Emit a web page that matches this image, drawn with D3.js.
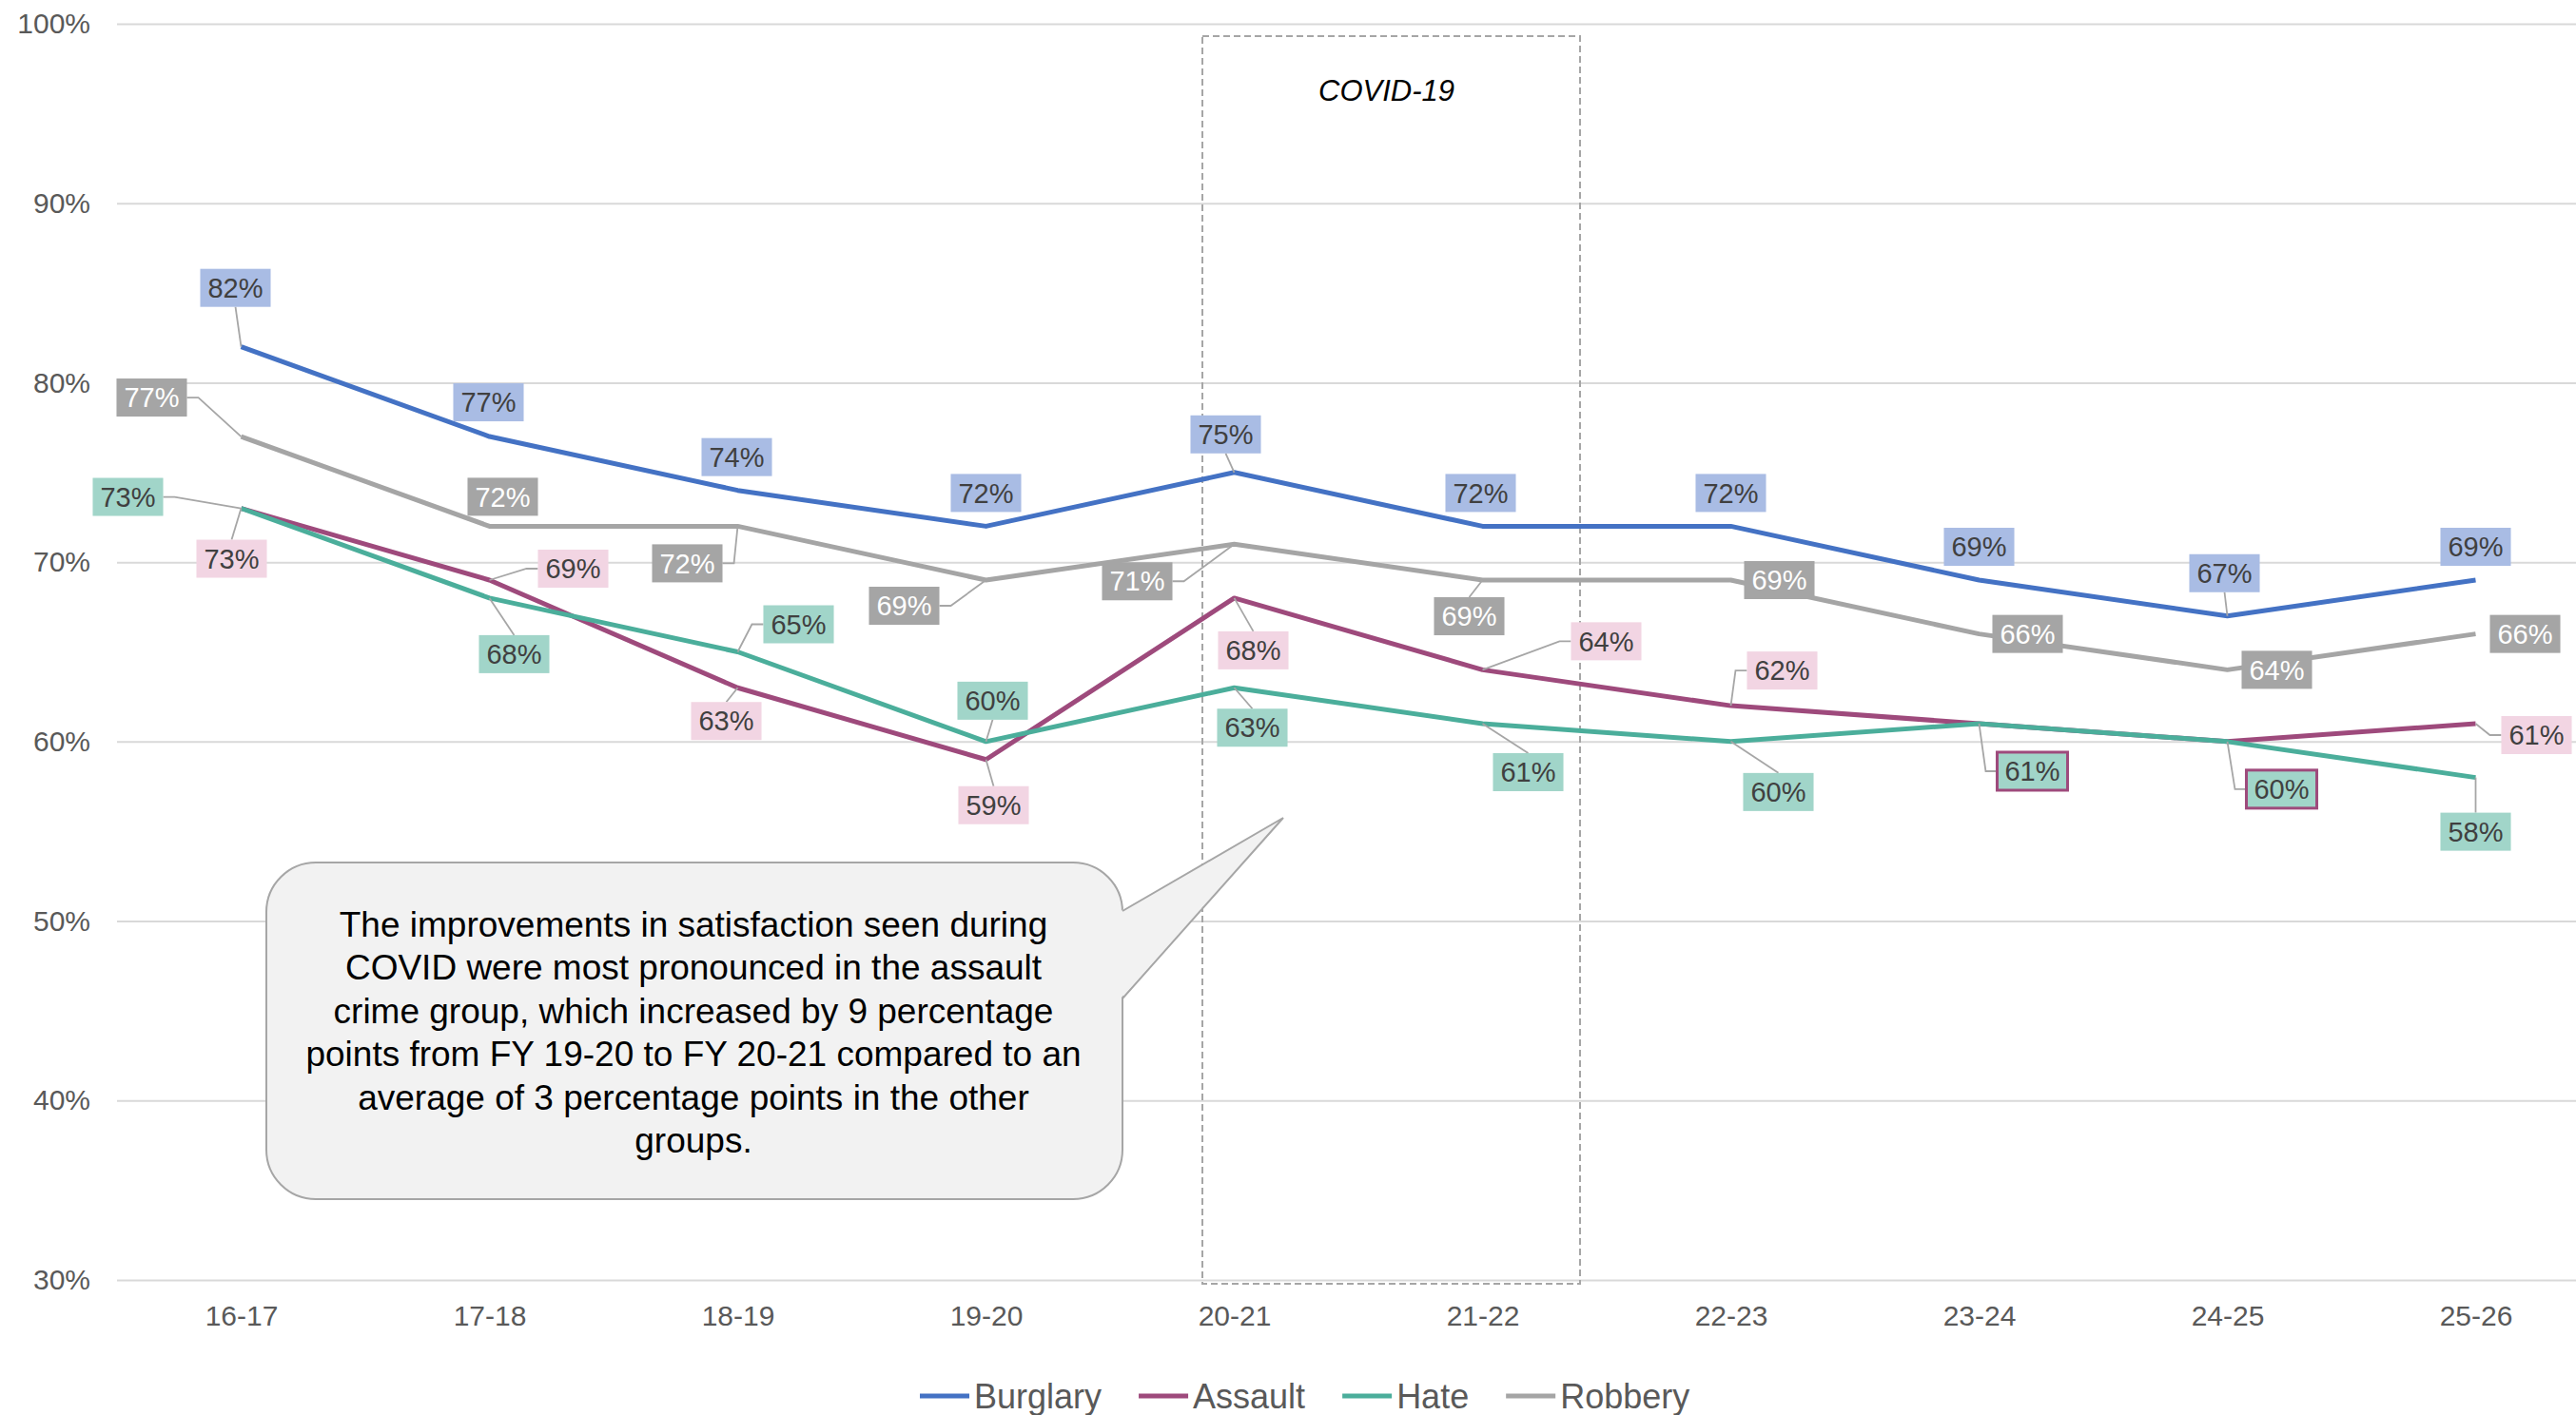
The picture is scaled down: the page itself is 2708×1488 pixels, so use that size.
<!DOCTYPE html>
<html>
<head>
<meta charset="utf-8">
<script src="https://cdn.jsdelivr.net/npm/d3@7"></script>
<style>
  body { margin: 0; background: #fff; }
  svg { display: block; font-family: "Liberation Sans", Arial, sans-serif; }
</style>
</head>
<body>
<script>
// ---- data ----
var years = ["16-17", "17-18", "18-19", "19-20", "20-21", "21-22", "22-23", "23-24", "24-25", "25-26"];
var seriesNames = ["Burglary", "Assault", "Hate", "Robbery"];
var burglary = [82, 77, 74, 72, 75, 72, 72, 69, 67, 69];
var assault  = [73, 69, 63, 59, 68, 64, 62, 61, 60, 61];
var hate     = [73, 68, 65, 60, 63, 61, 60, 61, 60, 58];
var robbery  = [77, 72, 72, 69, 71, 69, 69, 66, 64, 66];
var yTicks = [30, 40, 50, 60, 70, 80, 90, 100];
var covidYears = ["20-21", "21-22"];
var covidLabel = "COVID-19";
var noteLines = [
  "The improvements in satisfaction seen during",
  "COVID were most pronounced in the assault",
  "crime group, which increased by 9 percentage",
  "points from FY 19-20 to FY 20-21 compared to an",
  "average of 3 percentage points in the other",
  "groups."
];

// ---- label placement (dx, dy from point, leader type) ----
var burglaryLabelPos = [[-6,-62,"v"],[-1,-36,"n"],[-1,-35,"n"],[0,-35,"n"],[-9,-40,"v"],[-2,-35,"n"],[0,-35,"n"],[0,-35,"n"],[-3,-45,"v"],[0,-35,"n"]];
var assaultLabelPos  = [[-10,53,"v"],[88,-12,"s"],[-12,35,"v"],[8,48,"v"],[20,55,"v"],[130,-30,"s"],[54,-37,"s"],null,null,[64,12,"s"]];
var hateLabelPos     = [[-119,-12,"s"],[26,59,"v"],[64,-29,"s"],[7,-43,"v"],[19,42,"v"],[48,51,"v"],[50,53,"v"],[56,50,"s","border"],[57,50,"s","border"],[0,57,"v"]];
var robberyLabelPos  = [[-94,-41,"s"],[14,-31,"n"],[-53,39,"s"],[-86,27,"s"],[-102,39,"s"],[-14,38,"v"],[51,0,"n"],[51,0,"n"],[52,0,"n"],[52,0,"n"]];

var lineColors  = ["#4472C4", "#9E4A7C", "#4BAE9B", "#A5A5A5"];
var boxColors   = ["#A9BCE4", "#F2D5E3", "#A1D5C9", "#A5A5A5"];
var boxText     = ["#404040", "#404040", "#404040", "#FFFFFF"];

var W = 2708, H = 1488;
var left = 123;

var svg = d3.select("body").append("svg").attr("width", W).attr("height", H);

var x = d3.scalePoint().domain(years).range([253.5, 2602.5]);
var y = d3.scaleLinear().domain([30, 100]).range([1346, 25]);

// gridlines + y labels
var yAxis = svg.append("g")
    .attr("transform", "translate(" + left + ",0)")
    .call(d3.axisLeft(y).tickValues(yTicks).tickSize(-(W - left)).tickPadding(28)
      .tickFormat(function(d){ return d + "%"; }));
yAxis.select(".domain").remove();
yAxis.selectAll("line").attr("stroke", "#D9D9D9").attr("stroke-width", 2);
yAxis.selectAll("text").attr("font-size", 30).attr("fill", "#595959")
    .style("font-family", "'Liberation Sans', Arial, sans-serif");

// x labels
var xAxis = svg.append("g")
    .attr("transform", "translate(0," + y(30) + ")")
    .call(d3.axisBottom(x).tickSize(0).tickPadding(27));
xAxis.select(".domain").remove();
xAxis.selectAll("text").attr("font-size", 30).attr("fill", "#595959")
    .style("font-family", "'Liberation Sans', Arial, sans-serif");

// covid box
var cx0 = x(covidYears[0]) - 33.5, cx1 = x(covidYears[1]) + 102.5;
svg.append("rect")
    .attr("x", cx0).attr("y", y(100) + 13)
    .attr("width", cx1 - cx0).attr("height", y(30) - y(100) - 9)
    .attr("fill", "none").attr("stroke", "#A6A6A6").attr("stroke-width", 2)
    .attr("stroke-dasharray", "7,4");
svg.append("text")
    .attr("x", (cx0 + cx1) / 2 - 5).attr("y", 106)
    .attr("text-anchor", "middle").attr("font-size", 31).attr("font-style", "italic")
    .attr("fill", "#000").text(covidLabel);

// series lines
var allSeries = [burglary, assault, hate, robbery];
var line = d3.line()
    .x(function(d, i){ return x(years[i]); })
    .y(function(d){ return y(d); });

allSeries.forEach(function(s, k) {
  svg.append("path")
      .attr("fill", "none")
      .attr("stroke", lineColors[k])
      .attr("stroke-width", 5)
      .attr("stroke-linejoin", "round")
      .attr("d", line(s));
});

// data labels
var allPos = [burglaryLabelPos, assaultLabelPos, hateLabelPos, robberyLabelPos];
var labelLayer = svg.append("g");
allSeries.forEach(function(s, k) {
  s.forEach(function(v, i) {
    var pos = allPos[k][i];
    if (!pos) return;
    var px = x(years[i]), py = y(v);
    var g = labelLayer.append("g");
    var t = g.append("text")
        .attr("font-size", 29)
        .attr("text-anchor", "middle")
        .attr("fill", boxText[k])
        .text(v + "%");
    var tw = t.node().getComputedTextLength();
    var bw = tw + 16, bh = 40;
    var cx = px + pos[0], cy = py + pos[1];
    t.attr("x", cx).attr("y", cy).attr("dy", "0.35em");
    var pts = null;
    if (pos[2] === "s") {
      var side = pos[0] < 0 ? 1 : -1;
      var ex = cx + side * bw / 2;
      pts = [[ex, cy], [ex + side * 12, cy], [px, py]];
    } else if (pos[2] === "v") {
      var ey = cy + (pos[1] > 0 ? -bh / 2 : bh / 2);
      pts = [[cx, ey], [px, py]];
    }
    if (pts) {
      g.insert("path", "text")
          .attr("d", d3.line()(pts))
          .attr("fill", "none").attr("stroke", "#A6A6A6").attr("stroke-width", 1.8);
    }
    g.insert("rect", "text")
        .attr("x", cx - bw / 2).attr("y", cy - bh / 2)
        .attr("width", bw).attr("height", bh)
        .attr("fill", boxColors[k])
        .attr("stroke", pos[3] ? lineColors[1] : "none")
        .attr("stroke-width", 3);
  });
});

// callout
var note = svg.append("g");
var bx = 280, by = 907, bw2 = 900, bh2 = 354;
note.append("rect")
    .attr("x", bx).attr("y", by).attr("width", bw2).attr("height", bh2)
    .attr("rx", 52).attr("ry", 52)
    .attr("fill", "#F2F2F2").attr("stroke", "#A6A6A6").attr("stroke-width", 2);
var tip = [1349, 860], b1 = [bx + bw2, 958], b2 = [bx + bw2, 1050];
note.append("path")
    .attr("d", d3.line()([[b1[0] - 2, b1[1]], tip, [b2[0] - 2, b2[1]]]) + "Z")
    .attr("fill", "#F2F2F2").attr("stroke", "none");
note.append("path")
    .attr("d", d3.line()([b1, tip, b2]))
    .attr("fill", "none").attr("stroke", "#A6A6A6").attr("stroke-width", 2);
note.selectAll("text.note")
    .data(noteLines)
    .enter().append("text")
    .attr("class", "note")
    .attr("x", 729)
    .attr("y", function(d, i){ return 985 + i * 45.4; })
    .attr("text-anchor", "middle")
    .attr("font-size", 37)
    .attr("fill", "#000")
    .text(function(d){ return d; });

// legend
var legend = svg.append("g").attr("transform", "translate(0,1468)");
var lx = 967;
seriesNames.forEach(function(name, k) {
  legend.append("line")
      .attr("x1", lx).attr("x2", lx + 52).attr("y1", 0).attr("y2", 0)
      .attr("stroke", lineColors[k]).attr("stroke-width", 5);
  var t = legend.append("text")
      .attr("x", lx + 57).attr("y", 0).attr("dy", "0.35em")
      .attr("font-size", 36).attr("fill", "#595959")
      .text(name);
  lx = lx + 57 + t.node().getComputedTextLength() + 39;
});
</script>
</body>
</html>
